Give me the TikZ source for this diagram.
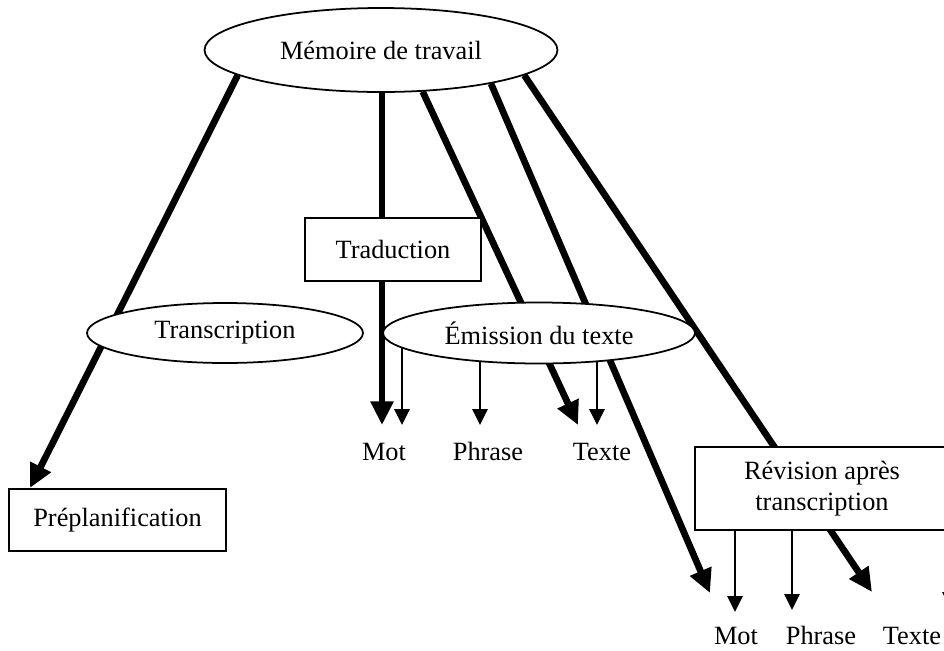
\documentclass[tikz,border=0pt]{standalone}
\usepackage{fontspec}
\setmainfont{Liberation Serif}
\usetikzlibrary{arrows.meta,shapes.geometric,backgrounds}

\begin{document}
\begin{tikzpicture}[x=0.02cm,y=-0.02cm,
    font=\fontsize{15}{17.5}\selectfont,
    box/.style={rectangle,draw,line width=1pt,fill=white,inner sep=0pt,align=center},
    oval/.style={ellipse,draw,line width=1pt,fill=white,inner sep=0pt},
    lbl/.style={anchor=base,inner sep=0pt},
    bigarrow/.style={line width=3.8pt,-{Triangle[length=13.5pt,width=12.5pt]}},
    smallarrow/.style={line width=1.3pt,-{Triangle[length=9pt,width=8.5pt]}}]

  \useasboundingbox (0,0) rectangle (944,650);
  \clip (0,0) rectangle (944,650);

  \node[oval,minimum width=7.06cm,minimum height=1.68cm] (memoire) at (381,50) {Mémoire de travail};
  \node[box,minimum width=3.52cm,minimum height=1.26cm] (traduction) at (393,249.5) {Traduction};
  \node[oval,minimum width=5.52cm,minimum height=1.2cm] (transcription) at (225,333) {Transcription};
  \node[oval,minimum width=6.24cm,minimum height=1.22cm] (emission) at (539,333) {Émission du texte};
  \node[box,minimum width=4.34cm,minimum height=1.24cm] (preplan) at (117.5,520) {Préplanification};
  \node[box,minimum width=5.08cm,minimum height=1.66cm] (revision) at (822,488.5) {Révision après\\transcription};

  % niveaux
  \node[lbl] (mot1) at (384,460) {Mot};
  \node[lbl] (phrase1) at (488,460) {Phrase};
  \node[lbl] (texte1) at (602,460) {Texte};
  \node[lbl] (mot2) at (736,644) {Mot};
  \node[lbl] (phrase2) at (821,644) {Phrase};
  \node[lbl] (texte2) at (912,644) {Texte};

  % pointes des fleches
  \coordinate (t1) at (30,488);
  \coordinate (t2) at (382,425);
  \coordinate (t3) at (578,425);
  \coordinate (t4) at (710,593);
  \coordinate (t5) at (872,592);
  \coordinate (a1) at (402,425);
  \coordinate (a2) at (480,425);
  \coordinate (a3) at (597,425);
  \coordinate (b1) at (735,612);
  \coordinate (b2) at (792,610);
  \coordinate (b3) at (950,608);

  \begin{scope}[on background layer]
    \draw[bigarrow] (memoire.190.9) -- (t1);
    \draw[bigarrow] (t2 |- memoire.center) -- (t2);
    \draw[bigarrow] (memoire.315.7) -- (t3);
    \draw[bigarrow] (memoire.343.4) -- (t4);
    \draw[bigarrow] (memoire.350.5) -- (t5);
    \draw[smallarrow] (a1 |- emission.center) -- (a1);
    \draw[smallarrow] (a2 |- emission.center) -- (a2);
    \draw[smallarrow] (a3 |- emission.center) -- (a3);
    \draw[smallarrow] (b1 |- revision.center) -- (b1);
    \draw[smallarrow] (b2 |- revision.center) -- (b2);
    \draw[smallarrow] (b3 |- revision.center) -- (b3);
  \end{scope}
\end{tikzpicture}
\end{document}
